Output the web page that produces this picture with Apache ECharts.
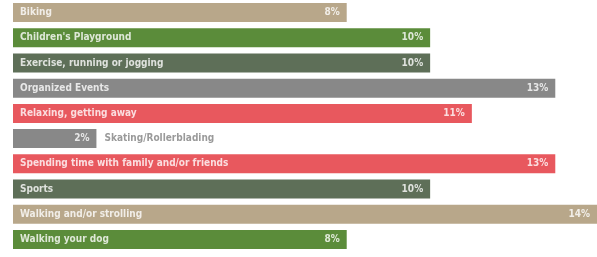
<!DOCTYPE html>
<html>
<head>
<meta charset="utf-8">
<script src="https://cdn.jsdelivr.net/npm/echarts@6/dist/echarts.min.js"></script>
<style>
  html, body { margin: 0; padding: 0; background: #fff; }
  #chart { width: 597px; height: 257px; }
</style>
</head>
<body>
<div id="chart"></div>
<script>
// activities, share in percent
var categories = ['Biking', "Children's Playground", 'Exercise, running or jogging', 'Organized Events',
  'Relaxing, getting away', 'Skating/Rollerblading', 'Spending time with family and/or friends',
  'Sports', 'Walking and/or strolling', 'Walking your dog'];
var values = [8, 10, 10, 13, 11, 2, 13, 10, 14, 8];

var tan = '#b8a78a', green = '#5b8c3a', slate = '#5e6f58', grey = '#888888', red = '#e8585e';
var barColors = [tan, green, slate, grey, red, grey, red, slate, tan, green];
var labelFont = '"DejaVu Sans Condensed", "DejaVu Sans", sans-serif';

var myChart = echarts.init(document.getElementById('chart'));

var option = {
  backgroundColor: '#fff',
  animation: false,
  grid: { left: 13, right: -3, top: -2, bottom: 5 },
  xAxis: { type: 'value', min: 0, max: 14, show: false },
  yAxis: { type: 'category', data: categories, inverse: true, show: false },
  series: [
    {
      type: 'bar',
      barWidth: 19,
      data: values.map(function (v, i) {
        return { value: v, itemStyle: { color: barColors[i] } };
      }),
      label: {
        show: true,
        position: 'insideRight',
        distance: 7,
        color: 'rgba(255,255,255,0.8)',
        fontFamily: labelFont,
        fontWeight: 'bold',
        fontSize: 10,
        formatter: '{c}%'
      }
    },
    {
      type: 'bar',
      barWidth: 19,
      barGap: '-100%',
      silent: true,
      itemStyle: { color: 'rgba(0,0,0,0)' },
      data: values.map(function (v, i) {
        var item = { value: v };
        if (v < 4) {
          item.label = { position: 'right', distance: 8, color: '#9a9a9a' };
        }
        return item;
      }),
      label: {
        show: true,
        position: 'insideLeft',
        distance: 7,
        color: 'rgba(255,255,255,0.8)',
        fontFamily: labelFont,
        fontWeight: 'bold',
        fontSize: 10,
        formatter: '{b}'
      }
    }
  ]
};

myChart.setOption(option);
</script>
</body>
</html>
